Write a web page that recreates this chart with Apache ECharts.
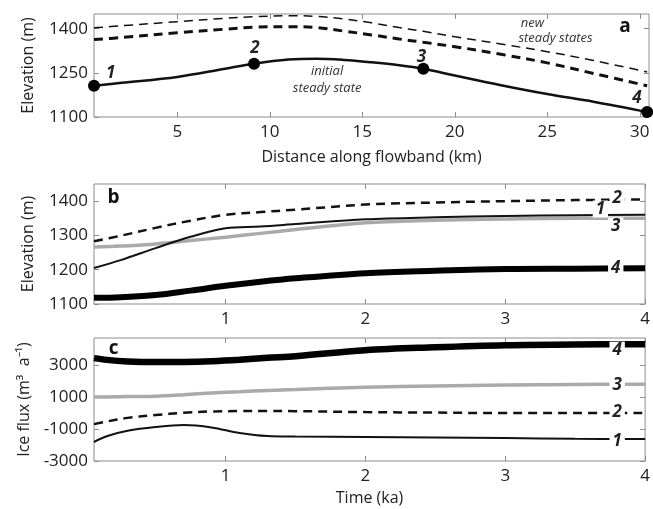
<!DOCTYPE html>
<html>
<head>
<meta charset="utf-8">
<script src="https://cdn.jsdelivr.net/npm/echarts@6/dist/echarts.min.js"></script>
<style>
  html, body { margin: 0; padding: 0; background: #fff; }
  #chart { width: 653px; height: 509px; }
</style>
</head>
<body>
<div id="chart"></div>
<script>
// panel a: distance along flowband (km)
const distKm = [0.5, 2, 5, 7.5, 9.15, 11, 12.5, 14, 15.5, 17, 18.3, 20, 22.5, 25, 27.5, 30.4];
const initialState = [1206, 1216, 1236, 1263, 1281, 1295, 1298, 1294, 1286, 1276, 1264, 1241, 1208, 1178, 1152, 1117];
const newStateHigh = [1403, 1410, 1424, 1435, 1441, 1444, 1442, 1433, 1420, 1404, 1391, 1373, 1348, 1322, 1292, 1253];
const newStateLow = [1363, 1370, 1386, 1398, 1405, 1407, 1404, 1392, 1379, 1365, 1354, 1339, 1313, 1284, 1248, 1206];
const pointKm = [0.5, 9.15, 18.3, 30.4];
const pointElev = [1206, 1281, 1264, 1117];

// panel b: elevation of points 1-4 through time (ka)
const timeB = [0.06, 0.25, 0.5, 0.75, 1, 1.25, 1.5, 2, 2.5, 3, 3.5, 4];
const elev1 = [1205, 1228, 1263, 1296, 1321, 1326, 1333, 1347, 1353, 1357, 1359, 1360];
const elev2 = [1283, 1299, 1322, 1343, 1360, 1368, 1375, 1390, 1396, 1400, 1403, 1405];
const elev3 = [1266, 1269, 1275, 1285, 1295, 1306, 1317, 1337, 1344, 1348, 1350, 1350];
const elev4 = [1118, 1120, 1126, 1139, 1153, 1165, 1175, 1190, 1197, 1202, 1203, 1204];

// panel c: ice flux of points 1-4 through time (ka)
const timeC = [0.06, 0.15, 0.3, 0.5, 0.7, 0.9, 1.1, 1.3, 1.5, 2, 2.5, 3, 3.5, 4];
const flux1 = [-1810, -1450, -1110, -875, -750, -900, -1250, -1440, -1470, -1500, -1530, -1560, -1610, -1625];
const flux2 = [-690, -530, -300, -125, 20, 100, 125, 125, 120, 60, 30, 0, 0, 0];
const flux3 = [1000, 1010, 1030, 1060, 1150, 1260, 1340, 1420, 1480, 1620, 1700, 1750, 1790, 1810];
const flux4 = [3440, 3330, 3230, 3190, 3200, 3250, 3340, 3460, 3560, 3940, 4120, 4250, 4300, 4310];

// tick labels
const kmTicks = [5, 10, 15, 20, 25, 30];
const timeTicks = [1, 2, 3, 4];
const elevTicksA = [1100, 1250, 1400];
const elevTicksB = [1100, 1200, 1300, 1400];
const fluxTicks = [-3000, -1000, 1000, 3000];

const FONT = "'Open Sans', sans-serif";
const GRAY = '#8c8c8c';
const TXT = '#222';

const zip = (xs, ys) => xs.map((x, i) => [x, ys[i]]);
const plain = v => String(v);

function xAxes(gi, min, max, ticks, name, gap) {
  const base = {
    gridIndex: gi, type: 'value', min: min, max: max,
    axisLine: { show: false, onZero: false }, splitLine: { show: false },
    axisTick: { show: true, inside: true, length: 5, lineStyle: { color: GRAY }, customValues: ticks }
  };
  return [
    Object.assign({}, base, {
      position: 'bottom',
      name: name, nameLocation: 'middle', nameGap: gap,
      nameTextStyle: { fontFamily: FONT, fontSize: 16, color: TXT },
      axisLabel: { customValues: ticks, formatter: plain, fontFamily: FONT, fontSize: 17, color: TXT, margin: 7 }
    }),
    Object.assign({}, base, { position: 'top', axisLabel: { show: false } })
  ];
}

function yAxes(gi, min, max, ticks, name) {
  const base = {
    gridIndex: gi, type: 'value', min: min, max: max,
    axisLine: { show: false, onZero: false }, splitLine: { show: false },
    axisTick: { show: true, inside: true, length: 5, lineStyle: { color: GRAY }, customValues: ticks }
  };
  return [
    Object.assign({}, base, {
      position: 'left',
      name: name, nameLocation: 'middle', nameGap: 58, nameRotate: 90,
      nameTextStyle: { fontFamily: FONT, fontSize: 16, color: TXT },
      axisLabel: { customValues: ticks, formatter: plain, fontFamily: FONT, fontSize: 17, color: TXT, margin: 6 }
    }),
    Object.assign({}, base, { position: 'right', axisLabel: { show: false } })
  ];
}

// text tags placed in data coordinates
function tag(coord, text, opt) {
  return {
    coord: coord, symbol: 'rect', symbolSize: 0,
    label: Object.assign({
      show: true, position: 'inside', formatter: text,
      fontFamily: FONT, fontSize: 17, fontStyle: 'italic', fontWeight: 'bold', color: TXT
    }, opt || {})
  };
}
function endTag(coord, text) {
  return tag(coord, text, { backgroundColor: '#fff', padding: [0, 3] });
}
const note = { fontSize: 13, fontWeight: 'normal', color: '#333', lineHeight: 17 };
const panelTag = { fontSize: 19, fontStyle: 'normal', fontWeight: 'bold', color: '#111' };

function line(xi, yi, data, width, color, dash, marks) {
  return {
    type: 'line', xAxisIndex: xi, yAxisIndex: yi, data: data,
    smooth: 0.35, symbol: 'none', silent: true,
    lineStyle: { width: width, color: color, type: dash ? [9, 6] : 'solid' },
    markPoint: marks ? { silent: true, z: 10, data: marks } : undefined
  };
}

const chart = echarts.init(document.getElementById('chart'), null, { renderer: 'canvas' });
chart.setOption({
  backgroundColor: '#fff',
  animation: false,
  grid: [
    { left: 94, top: 14, width: 555, height: 103, show: true, borderColor: GRAY, borderWidth: 1 },
    { left: 94, top: 184, width: 555, height: 120, show: true, borderColor: GRAY, borderWidth: 1 },
    { left: 94, top: 338, width: 555, height: 123, show: true, borderColor: GRAY, borderWidth: 1 }
  ],
  xAxis: [
    ...xAxes(0, 0.5, 30.5, kmTicks, 'Distance along flowband (km)', 32),
    ...xAxes(1, 0.06, 4, timeTicks, '', 30),
    ...xAxes(2, 0.06, 4, timeTicks, 'Time (ka)', 29)
  ],
  yAxis: [
    ...yAxes(0, 1100, 1450, elevTicksA, 'Elevation (m)'),
    ...yAxes(1, 1100, 1450, elevTicksB, 'Elevation (m)'),
    ...yAxes(2, -3000, 4700, fluxTicks, 'Ice flux (m³  a⁻¹)')
  ],
  series: [
    // panel a
    line(0, 0, zip(distKm, newStateHigh), 1.5, '#111', true, [
      tag([24.2, 1420], 'new', note),
      tag([25.45, 1366], 'steady states', note),
      tag([29.2, 1407], 'a', panelTag)
    ]),
    line(0, 0, zip(distKm, newStateLow), 3, '#111', true),
    line(0, 0, zip(distKm, initialState), 2.5, '#111', false, [
      tag([13.1, 1226], 'initial\nsteady state', note),
      tag([1.4, 1250], '1'),
      tag([9.2, 1335], '2'),
      tag([18.2, 1305], '3'),
      tag([29.85, 1165], '4')
    ]),
    {
      type: 'scatter', xAxisIndex: 0, yAxisIndex: 0, data: zip(pointKm, pointElev),
      symbol: 'circle', symbolSize: 12, clip: false, silent: true, z: 5,
      itemStyle: { color: '#000', opacity: 1 }
    },
    // panel b
    line(2, 2, zip(timeB, elev3), 3.5, '#aaaaaa', false),
    line(2, 2, zip(timeB, elev4), 6, '#000', false),
    line(2, 2, zip(timeB, elev1), 2, '#111', false),
    line(2, 2, zip(timeB, elev2), 2.5, '#111', true, [
      tag([0.2, 1409], 'b', panelTag),
      endTag([3.8, 1409], '2'),
      endTag([3.68, 1377], '1'),
      endTag([3.79, 1328], '3'),
      endTag([3.79, 1205], '4')
    ]),
    // panel c
    line(4, 4, zip(timeC, flux4), 6.5, '#000', false),
    line(4, 4, zip(timeC, flux3), 3.5, '#aaaaaa', false),
    line(4, 4, zip(timeC, flux2), 2.5, '#111', true),
    line(4, 4, zip(timeC, flux1), 2, '#111', false, [
      tag([0.2, 4060], 'c', panelTag),
      endTag([3.8, 3940], '4'),
      endTag([3.8, 1750], '3'),
      endTag([3.8, 60], '2'),
      endTag([3.8, -1750], '1')
    ])
  ]
});
window.addEventListener('resize', () => chart.resize());
</script>
</body>
</html>
